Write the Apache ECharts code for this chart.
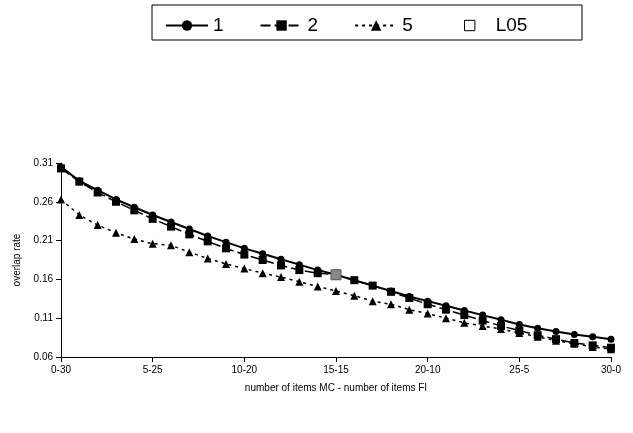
<!DOCTYPE html>
<html><head><meta charset="utf-8">
<script src="https://cdn.jsdelivr.net/npm/echarts@6/dist/echarts.min.js"></script>
<style>body{margin:0;background:#fff}#c{width:633px;height:433px}</style>
</head><body><div id="c"></div>
<script>
const categories = [];
for (let i = 0; i <= 30; i++) categories.push(i + '-' + (30 - i));
const s1 = [0.305,0.287,0.275,0.263,0.253,0.243,0.234,0.225,0.216,0.208,0.200,0.193,0.186,0.179,0.172,0.166,0.159,0.152,0.145,0.138,0.132,0.126,0.120,0.114,0.108,0.102,0.097,0.093,0.089,0.086,0.083];
const s2 = [0.303,0.286,0.272,0.260,0.249,0.238,0.228,0.218,0.209,0.200,0.192,0.185,0.178,0.172,0.168,0.166,0.159,0.152,0.144,0.136,0.128,0.121,0.114,0.107,0.100,0.094,0.088,0.083,0.078,0.075,0.072];
const s5 = [0.263,0.243,0.230,0.220,0.212,0.206,0.204,0.195,0.187,0.180,0.174,0.168,0.163,0.157,0.151,0.145,0.139,0.132,0.128,0.121,0.116,0.110,0.104,0.100,0.096,0.091,0.086,0.081,0.077,0.073,0.070];
const l05 = categories.map((c, i) => i === 15 ? 0.166 : '-');

const chart = echarts.init(document.getElementById('c'));
const font = 'Liberation Sans, Arial, sans-serif';
chart.setOption({
  animation: false,
  textStyle: { fontFamily: font },
  graphic: [{ type: 'rect', shape: { x: 152, y: 5, width: 430, height: 35 }, style: { fill: 'none', stroke: '#000', lineWidth: 1 } }],
  legend: {
    top: 11, left: 160, itemGap: 36, itemWidth: 42, itemHeight: 13,
    textStyle: { fontSize: 19, color: '#000', fontFamily: font },
    data: ['1', '2', '5', { name: 'L05', itemStyle: { color: '#fff', borderColor: '#000', borderWidth: 1 } }]
  },
  grid: { left: 61, right: 22, top: 163, bottom: 76 },
  xAxis: {
    type: 'category', data: categories, boundaryGap: false,
    name: 'number of items MC - number of items FI', nameLocation: 'middle', nameGap: 26,
    nameTextStyle: { fontSize: 10, color: '#000' },
    axisLine: { lineStyle: { color: '#000' } },
    axisTick: { interval: 4, alignWithLabel: true, lineStyle: { color: '#000' } },
    axisLabel: { interval: 4, fontSize: 10, color: '#000', showMaxLabel: true }
  },
  yAxis: {
    type: 'value', min: 0.06, max: 0.31, interval: 0.05,
    name: 'overlap rate', nameLocation: 'middle', nameGap: 36, nameRotate: 90,
    nameTextStyle: { fontSize: 10, color: '#000' },
    axisLine: { show: true, lineStyle: { color: '#000' } },
    axisTick: { show: true, lineStyle: { color: '#000' } },
    splitLine: { show: false },
    axisLabel: { fontSize: 10, color: '#000', formatter: v => v.toFixed(2) }
  },
  series: [
    { name: '1', type: 'line', data: s1, symbol: 'circle', symbolSize: 7, itemStyle: { color: '#000' }, lineStyle: { color: '#000', width: 2 } },
    { name: '2', type: 'line', data: s2, symbol: 'rect', symbolSize: 8, itemStyle: { color: '#000' }, lineStyle: { color: '#000', width: 1.5, type: [10, 4] } },
    { name: '5', type: 'line', data: s5, symbol: 'triangle', symbolSize: 8, itemStyle: { color: '#000' }, lineStyle: { color: '#000', width: 1.5, type: [3, 4] } },
    { name: 'L05', type: 'line', data: l05, symbol: 'rect', symbolSize: 10, showSymbol: true, itemStyle: { color: '#888', borderColor: '#555', borderWidth: 1 }, lineStyle: { width: 0 }, z: 5 }
  ]
});
</script></body></html>
